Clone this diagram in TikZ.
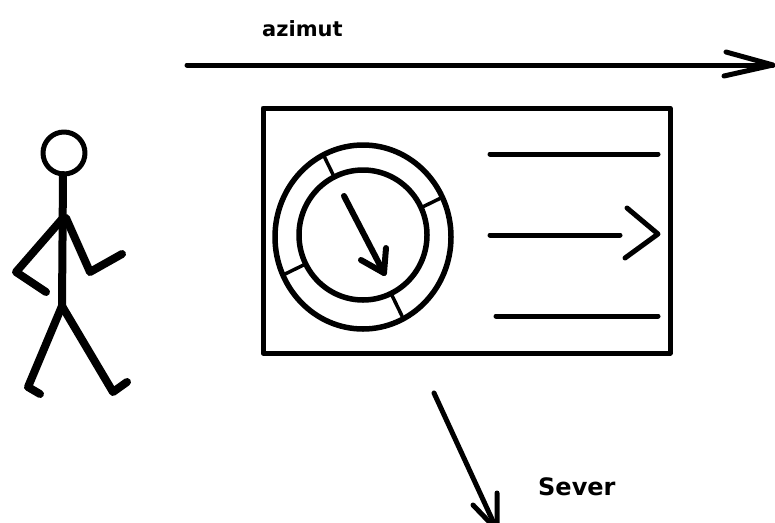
\documentclass[tikz,border=0pt]{standalone}
\usepackage{fontspec}
\setmainfont{DejaVu Sans}
\begin{document}
\begin{tikzpicture}[x=1pt, y=-1pt, line cap=round, line join=round,
  stroke/.style={line width=5pt},
  limb/.style={line width=8pt},
  ring/.style={line width=5.5pt},
  tick/.style={line width=3.5pt},
  word/.style={inner sep=0pt, anchor=base west, font=\bfseries\fontsize{#1}{#1}\selectfont}]
\useasboundingbox (0,0) rectangle (775,522);

% azimuth arrow along the top
\coordinate (azA) at (187,65);
\coordinate (azB) at (773,65);
\draw[stroke] (azA) -- (azB);
\draw[stroke] (726,52) -- (azB) -- (724,76);
\node[word=21] (azimut) at (262,36) {azimut};

% walking stick figure
\draw[line width=5pt] (64,153) circle[radius=21pt];
\draw[limb] (63,175) -- (62,306);
\draw[limb] (63,218) -- (16,272) -- (46,292);
\draw[limb] (66,218) -- (90,272) -- (122,254);
\draw[limb] (62,306) -- (28,387) -- (40,394);
\draw[limb] (62,306) -- (113,392) -- (127,382);

% compass card
\draw[stroke] (263,108) rectangle (670,353);
\coordinate (ctr) at (363,236);
\draw[ring] (363,237) ellipse[x radius=88pt, y radius=92pt];
\draw[ring] (363,235) ellipse[x radius=64pt, y radius=65pt];
\foreach \a in {26,116,206,296}
  \draw[tick] ([shift={(\a:66pt)}]ctr) -- ([shift={(\a:89pt)}]ctr);
% needle
\coordinate (nA) at (344,196);
\coordinate (nB) at (384,273);
\draw[line width=6pt] (nA) -- (nB);
\draw[line width=6pt] (361,260) -- (nB) -- (386,248);

% marks on the right of the card
\draw[stroke] (490,154) -- (658,154);
\draw[stroke] (490,235) -- (620,235);
\draw[stroke] (627,208) -- (658,234) -- (625,258);
\draw[stroke] (496,316) -- (658,316);

% north arrow below
\coordinate (sA) at (434,393);
\coordinate (sB) at (497,530);
\draw[stroke] (sA) -- (sB);
\draw[stroke] (473,505) -- (sB) -- (497,493);
\node[word=24] (sever) at (538,495) {Sever};
\end{tikzpicture}
\end{document}
